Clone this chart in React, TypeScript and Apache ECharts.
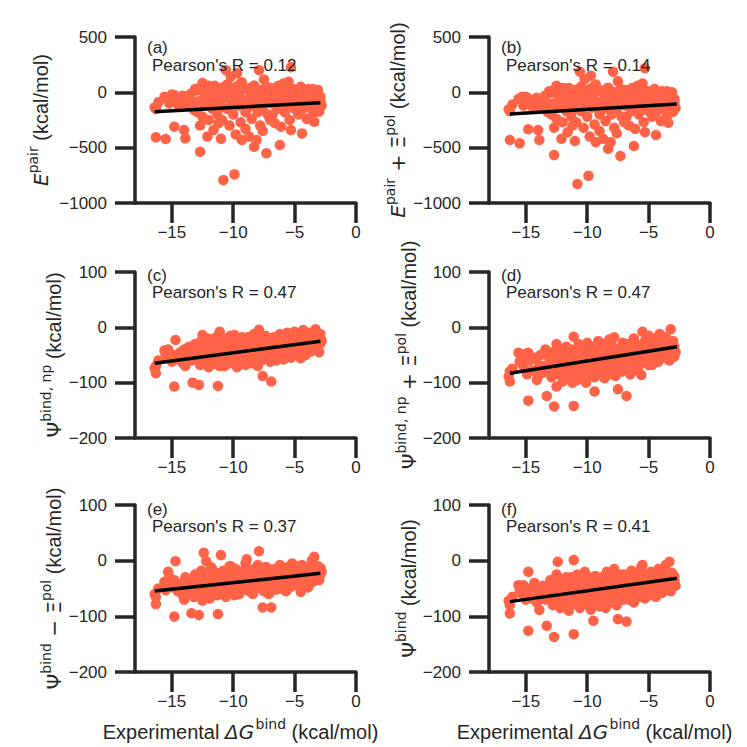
import React, { useEffect, useRef } from "react";
import * as echarts from "echarts";

// Shared experimental binding free energies (x)
const xOuter = [
  -16.4, -16.3, -16.3, -16.1, -15.6, -15.5, -15.3, -15.2, -15.0, -14.9,
  -14.8, -14.8, -14.7, -14.5, -14.3, -14.1, -14.0, -13.9, -13.8, -13.6, -13.4, -13.3, -13.2, -13.0,
  -12.9, -12.8, -12.7, -12.7, -12.5, -12.5, -12.4, -12.3, -12.2, -12.1, -12.0, -11.9, -11.8, -11.7, -11.6, -11.5, -11.4, -11.3, -11.25, -11.2, -11.1, -11.1, -11.0, -11.0,
  -10.9, -10.8, -10.8, -10.7, -10.6, -10.5, -10.4, -10.3, -10.2, -10.1, -10.0, -9.9, -9.9, -9.8, -9.7, -9.6, -9.5, -9.4, -9.4, -9.3, -9.2, -9.1, -9.0, -9.0,
  -8.9, -8.8, -8.7, -8.6, -8.5, -8.4, -8.3, -8.3, -8.2, -8.1, -8.0, -7.9, -7.9, -7.8, -7.7, -7.6, -7.6, -7.5, -7.4, -7.3, -7.2, -7.1, -7.0, -7.0,
  -6.9, -6.85, -6.8, -6.7, -6.6, -6.5, -6.4, -6.3, -6.2, -6.2, -6.1, -6.0, -5.9, -5.8, -5.7, -5.6, -5.5, -5.4, -5.3, -5.3, -5.2, -5.1, -5.0, -5.0,
  -4.9, -4.8, -4.7, -4.6, -4.5, -4.4, -4.4, -4.3, -4.2, -4.1, -4.0, -3.9, -3.8, -3.7, -3.6, -3.5, -3.4, -3.3, -3.2, -3.1, -3.0, -2.9, -2.9, -2.8,
];
const xCore = [
  -13.5, -13.1, -12.8, -12.6, -12.3, -12.0, -11.8, -11.5, -11.3, -11.0, -10.7, -10.5, -10.2, -10.0, -9.8, -9.5,
  -9.3, -9.0, -8.8, -8.5, -8.3, -8.0, -7.8, -7.5, -7.3, -7.0, -6.8, -6.5, -6.3, -6.0, -5.8, -5.5,
  -5.3, -5.0, -4.8, -4.5, -4.3, -4.0, -3.8, -3.5, -3.3, -3.0, -12.2, -10.9, -9.7, -8.6, -7.2, -6.1,
];

const yA = [
  -136, -407, -150, -90, -40, -422, -60, -100, -20, -75,
  -311, -24, -60, -110, -80, -30, -341, -416, -120, -50, -10, -90, -160, 20,
  -180, 20, -300, -537, 84, -220, -120, -40, 40, -400, -250, -70, 10, -150, -340, 60, -100, -200, -20, -280, -60, 30, -130, -420,
  -250, -793, -60, 50, 200, -150, -30, -300, 141, -90, -200, -741, 0, -380, 172, -120, -40, 80, -270, -430, -100, 30, -180, -330,
  -150, -60, -400, 20, -240, -120, -492, 60, -20, -431, -180, 200, -80, -300, 10, -140, -350, 116, -60, -551, -200, -30, 40, -250,
  -100, -20, -200, 40, -280, -60, -150, 10, -476, -90, -310, -40, 80, -180, -120, 0, 96, -250, 226, -341, -70, 30, -150, -20,
  -60, 20, -200, -110, 40, -371, -30, -150, 0, -90, -240, 30, -50, -130, 10, -190, -266, -20, -100, 20, -175, -70, -40, -120,
];
const yACore = [
  -20, 30, -80, 50, -10, 60, -50, 20, -110, 40, -30, 70, -70, 10, 50, -40,
  90, -100, 30, -10, 60, -60, 20, -30, 50, -80, 30, -20, 60, -60, 10, 40,
  -40, 20, -10, 50, -30, 0, -60, 30, -20, -50, 0, 30, -20, 40, 0, -40,
];

const yB = [
  -154, -431, -170, -110, -60, -461, -40, -120, -40, -95,
  -334, -54, -80, -130, -100, -50, -341, -431, -140, -70, -30, -110, -180, 0,
  -200, 0, -320, -567, 60, -240, -140, -60, 20, -420, -270, -90, -10, -170, -360, 40, -120, -220, -40, -300, -80, 10, -150, -440,
  -270, -829, -80, 30, 186, -170, -50, -320, 120, -110, -220, -754, -20, -400, 150, -140, -60, 60, -290, -450, -120, 10, -200, -350,
  -170, -80, -420, 0, -260, -140, -510, 40, -40, -450, -200, 186, -100, -320, -10, -160, -370, 100, -80, -576, -220, -50, 20, -270,
  -120, -40, -220, 20, -300, -80, -170, -10, -485, -110, -330, -60, 60, -200, -140, -20, 80, -270, 217, -360, -90, 10, -170, -40,
  -80, 0, -220, -130, 20, -386, -50, -170, -20, -110, -260, 10, -70, -150, -10, -210, -275, -40, -120, 0, -175, -90, -60, -140,
];
const yBCore = [
  -40, 10, -100, 30, -30, 40, -70, 0, -130, 20, -50, 50, -90, -10, 30, -60,
  70, -120, 10, -30, 40, -80, 0, -50, 30, -100, 10, -40, 40, -80, -10, 20,
  -60, 0, -30, 30, -50, -20, -80, 10, -40, -70, -20, 10, -40, 20, -20, -60,
];

const yC = [
  -74, -83, -70, -60, -42, -52, -40, -46, -62, -55,
  -107, -50, -23, -58, -45, -65, -40, -70, -52, -35, -60, -100, -48, -30,
  -55, -104, -40, -68, -14, -50, -30, -62, -45, -20, -72, -38, -55, -28, -66, -42, -18, -58, -106, -35, -70, -8, -48, -25,
  -60, -30, -45, -70, -20, -52, -38, -65, -15, -48, -28, -14, -58, -40, -72, -25, -50, -35, -62, -18, -44, -55, -30, -68,
  -40, -58, -22, -50, -65, -30, -45, -12, -55, -36, -70, -4.5, -42, -25, -60, -88, -33, -48, -15, -56, -28, -40, -62, -20,
  -98, -35, -50, -18, -42, -60, -26, -38, -52, -12, -45, -30, -58, -22, -40, -10, -48, -32, -55, -16, -36, -25, -44, -8,
  -30, -48, -14, -38, -56, -22, -42, -5, -32, -50, -18, -36, -10, -44, -26, -40, -15, -3.6, -34, -20, -45, -29, -12, -24,
];
const yCCore = [
  -45, -30, -52, -25, -40, -58, -22, -48, -35, -60, -28, -45, -20, -52, -33, -26,
  -47, -38, -18, -42, -30, -50, -22, -35, -45, -28, -38, -20, -46, -30, -15, -40,
  -25, -35, -20, -42, -28, -15, -35, -22, -30, -18, -48, -35, -40, -28, -45, -25,
];

const yD = [
  -89, -98, -80, -75, -46, -62, -55, -70, -48, -85,
  -132.5, -46, -60, -78, -55, -95, -88, -68, -50, -82, -40, -124, -70, -58,
  -90, -45, -143, -75, -30, -107, -60, -85, -40, -70, -98, -52, -80, -35, -65, -92, -48, -72, -60, -100, -142, -17, -55, -82,
  -45, -70, -95, -30, -62, -85, -40, -75, -55, -100, -28, -65, -88, -48, -78, -35, -60, -116, -90, -42, -70, -25, -58, -82,
  -50, -75, -30, -92, -60, -40, -68, -85, -22, -55, -78, -35, -62, -18, -88, -48, -70, -112, -40, -58, -80, -28, -65, -50,
  -45, -72, -124, -30, -60, -85, -40, -55, -20, -78, -48, -65, -32, -70, -50, -86, -8, -42, -62, -25, -55, -38, -68, -15,
  -48, -30, -68, -40, -58, -20, -52, -35, -62, -12, -45, -28, -55, -38, -18, -48, -30, -60, -3.6, -42, -25, -53, -35, -45,
];
const yDCore = [
  -70, -55, -80, -45, -65, -75, -50, -68, -40, -82, -55, -70, -45, -62, -38, -72,
  -55, -48, -65, -35, -58, -70, -42, -55, -62, -30, -50, -66, -40, -55, -35, -60,
  -45, -28, -52, -38, -48, -30, -42, -25, -50, -38, -62, -58, -50, -45, -60, -52,
];

const yE = [
  -60, -78, -65, -50, -38, -53, -20, -30, -41, -48,
  -100.5, -35, -1, -55, -42, -62, -70, -30, -48, -58, -94.5, -38, -65, -25,
  -50, -97.6, -35, -60, -20, -72, 14, -45, -1, -55, -30, -68, -40, -15, -58, -25, -48, -62, -96, -35, -52, -22, 10, -45,
  -30, -58, -18, -45, -65, -25, -50, -10, -38, -55, -28, -62, -40, -15, -48, -32, -60, -20, -42, -52, -25, -35, -5, -48,
  2.5, -40, -55, -22, -35, -60, -15, -45, -28, -50, -8, 17, -38, -20, -48, -84, -30, -55, -12, -42, -25, -60, -18, -35,
  -84, -28, -45, -15, -38, -52, -22, -40, -8, -32, -50, -18, -42, -26, -55, -12, -35, -48, -20, -30, -5, -44, -25, -38,
  -30, -15, -45, -22, -56, -8, -35, -25, -40, -12, -32, -48, -18, -28, 0, -38, 7, -22, -30, -10, -35, -13, -25, -20,
];
const yECore = [
  -40, -25, -50, -18, -35, -55, -12, -42, -28, -48, -20, -38, -10, -45, -30, -22,
  -40, -15, -35, -28, -45, -18, -32, -40, -12, -30, -42, -20, -35, -25, -15, -38,
  -20, -30, -10, -35, -25, -15, -30, -18, -28, -20, -40, -30, -25, -35, -20, -28,
];

const yF = [
  -72, -95, -80, -65, -44, -53, -60, -44, -70, -58,
  -126, -20, -50, -68, -40, -75, -55, -88.6, -62, -45, -70, -117, -52, -35,
  -60, -80, -137, -42, -70, -25, -2, -55, -85, -38, -65, -48, -75, -30, -58, -90, -45, -68, -35, -78, -132, 1, -52, -62,
  -40, -72, -25, -58, -85, -35, -65, -48, -20, -78, -52, -30, -68, -42, -88, -55, -108, -28, -62, -75, -38, -50, -82, -45,
  -58, -30, -72, -45, -85, -20, -62, -50, -38, -75, -28, -55, -68, -15, -48, -80, -35, -105, -60, -42, -25, -70, -52, -38,
  -62, -45, -109.5, -28, -70, -52, -18, -60, -40, -75, -32, -55, -22, -65, -45, -12, -8, -50, -35, -68, -25, -42, -58, -30,
  -48, -20, -62, -35, -55, -65, -28, -45, -15, -52, -38, -58, -25, -42, -8, -48, -32, -2, -55, -22, -40, -35, -28, -45,
];
const yFCore = [
  -60, -45, -70, -35, -55, -65, -40, -58, -30, -72, -48, -62, -35, -55, -42, -68,
  -28, -50, -60, -38, -52, -65, -30, -48, -58, -25, -45, -55, -35, -50, -20, -42,
  -55, -30, -45, -35, -50, -25, -40, -28, -45, -35, -52, -48, -60, -42, -55, -40,
];

// Regression line end points
const fitA = [[-16.4, -175], [-2.9, -94]];
const fitB = [[-16.3, -196], [-2.7, -105]];
const fitC = [[-16.4, -65], [-2.9, -25]];
const fitD = [[-16.3, -83], [-2.7, -35]];
const fitE = [[-16.4, -54.5], [-2.9, -22.7]];
const fitF = [[-16.3, -73.6], [-2.7, -31.6]];

const pearsonR = ["0.12", "0.14", "0.47", "0.47", "0.37", "0.41"];
const panelTags = ["(a)", "(b)", "(c)", "(d)", "(e)", "(f)"];
const xTicks = [-15, -10, -5, 0];
const xRange = [-18, 0];
const yRanges = [
  [-1000, 500, 500],
  [-200, 100, 100],
  [-200, 100, 100],
];

const yLabels = [
  "{i|E}{s|pair}{n| (kcal/mol)}",
  "{i|E}{s|pair}{m| + Ξ}{s|pol}{n| (kcal/mol)}",
  "{m|Ψ}{s|bind, np}{n| (kcal/mol)}",
  "{m|Ψ}{s|bind, np}{m| + Ξ}{s|pol}{n| (kcal/mol)}",
  "{m|Ψ}{s|bind}{m| − Ξ}{s|pol}{n| (kcal/mol)}",
  "{m|Ψ}{s|bind}{n| (kcal/mol)}",
];
const xLabel = "{n|Experimental }{i|ΔG}{g| }{s|bind}{n| (kcal/mol)}";

const FONT = "Liberation Sans, Arial, sans-serif";
const MATH = "DejaVu Sans, sans-serif";
const INK = "#262626";
const DOT = "#FF6347";

const COLS = [135, 489];
const ROWS = [
  { top: 37, h: 166 },
  { top: 272, h: 166 },
  { top: 505, h: 167 },
];
const GW = 221;
const YLAB_X = [
  [41, 398],
  [54, 409],
  [54, 409],
];
const TAG_Y = [47, 275, 509];
const R_Y = [65, 292, 526];

const minus = (v: number) => String(v).replace("-", "\u2212");

function rich(size: number) {
  return {
    n: { fontFamily: FONT, fontSize: size, lineHeight: 30, verticalAlign: "middle", fill: INK },
    m: { fontFamily: MATH, fontSize: size, lineHeight: 30, verticalAlign: "middle", fill: INK },
    i: { fontFamily: MATH, fontStyle: "italic", fontSize: size, lineHeight: 30, verticalAlign: "middle", fill: INK },
    s: { fontFamily: MATH, fontSize: size * 0.7, lineHeight: 30, verticalAlign: "top", fill: INK },
    g: { fontFamily: FONT, fontSize: 5, lineHeight: 30, verticalAlign: "middle", fill: INK },
  };
}

export default function App() {
  const ref = useRef<HTMLDivElement>(null);
  useEffect(() => {
    if (!ref.current) return;
    const chart = echarts.init(ref.current, null, { renderer: "svg" });
    const X = xOuter.concat(xCore);
    const ys = [
      yA.concat(yACore),
      yB.concat(yBCore),
      yC.concat(yCCore),
      yD.concat(yDCore),
      yE.concat(yECore),
      yF.concat(yFCore),
    ];
    const fits = [fitA, fitB, fitC, fitD, fitE, fitF];
    const grid: any[] = [];
    const xAxis: any[] = [];
    const yAxis: any[] = [];
    const series: any[] = [];
    const graphic: any[] = [];
    const axisLine = { show: true, onZero: false, lineStyle: { color: INK, width: 3.5 } };
    const tickStyle = { color: INK, width: 3.5 };
    const lbl = { fontSize: 17, fontFamily: FONT, color: INK };
    for (let k = 0; k < 6; k++) {
      const r = Math.floor(k / 2);
      const c = k % 2;
      const left = COLS[c];
      const top = ROWS[r].top;
      grid.push({ left, top, width: GW, height: ROWS[r].h });
      xAxis.push({
        gridIndex: k,
        type: "value",
        min: xRange[0],
        max: xRange[1],
        axisLine,
        axisTick: { show: true, length: 20, lineStyle: tickStyle, customValues: xTicks },
        axisLabel: { ...lbl, margin: 21, customValues: xTicks, formatter: (v: number) => minus(v) },
        splitLine: { show: false },
      });
      yAxis.push({
        gridIndex: k,
        type: "value",
        min: yRanges[r][0],
        max: yRanges[r][1],
        interval: yRanges[r][2],
        axisLine,
        axisTick: { show: true, length: 20, lineStyle: tickStyle },
        axisLabel: { ...lbl, margin: 28, formatter: (v: number) => minus(v) },
        splitLine: { show: false },
      });
      series.push({
        type: "scatter",
        xAxisIndex: k,
        yAxisIndex: k,
        data: X.map((x, i) => [x, ys[k][i]]),
        symbol: "circle",
        symbolSize: 10.5,
        itemStyle: { color: DOT, opacity: 1 },
        z: 2,
      });
      series.push({
        type: "line",
        xAxisIndex: k,
        yAxisIndex: k,
        data: fits[k],
        symbol: "none",
        lineStyle: { color: "#000", width: 3.5 },
        z: 3,
      });
      graphic.push({
        type: "text",
        x: left + 12,
        y: TAG_Y[r],
        z: 100,
        style: { text: panelTags[k], fontSize: 17, fontFamily: FONT, fill: INK, align: "left", verticalAlign: "middle" },
      });
      graphic.push({
        type: "text",
        x: left + 17,
        y: R_Y[r],
        z: 100,
        style: { text: "Pearson's R = " + pearsonR[k], fontSize: 17, fontFamily: FONT, fill: INK, align: "left", verticalAlign: "middle" },
      });
      graphic.push({
        type: "text",
        x: YLAB_X[r][c],
        y: top + ROWS[r].h / 2,
        rotation: Math.PI / 2,
        z: 100,
        style: { text: yLabels[k], rich: rich(20), align: "center", verticalAlign: "middle" },
      });
      if (r === 2) {
        graphic.push({
          type: "text",
          x: left + GW / 2 - 5,
          y: 732,
          z: 100,
          style: { text: xLabel, rich: rich(20), align: "center", verticalAlign: "middle" },
        });
      }
    }
    chart.setOption({
      animation: false,
      backgroundColor: "#ffffff",
      textStyle: { fontFamily: FONT },
      grid,
      xAxis,
      yAxis,
      series,
      graphic,
    });
    return () => chart.dispose();
  }, []);
  return (
    <div
      ref={ref}
      style={{ position: "fixed", left: 0, top: 0, width: 747, height: 747, background: "#fff" }}
    />
  );
}
